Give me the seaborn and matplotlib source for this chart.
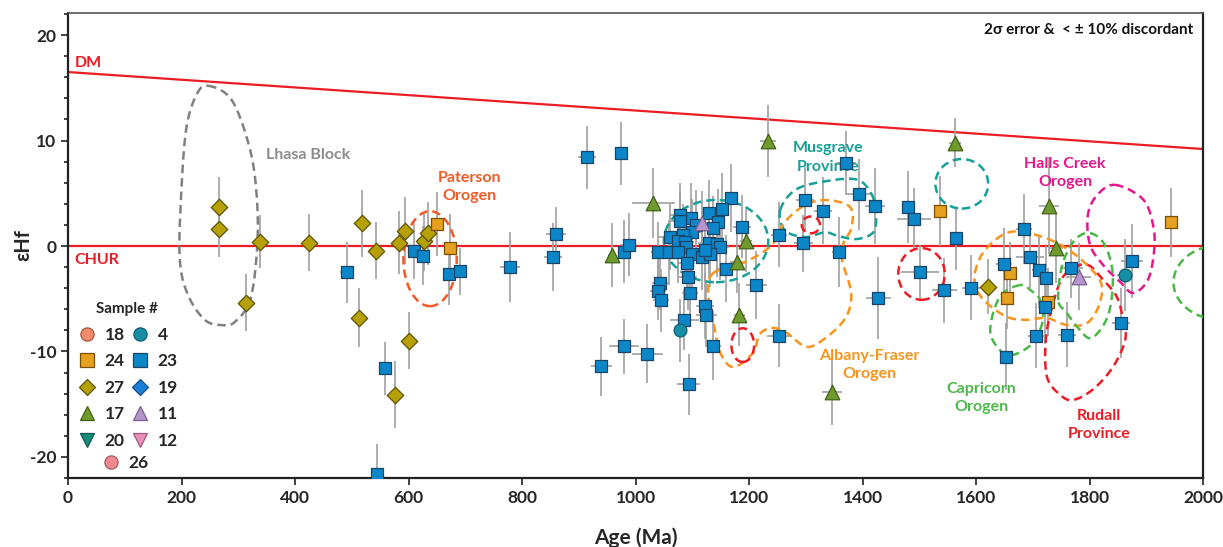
import numpy as np
import pandas as pd
import matplotlib
matplotlib.use("Agg")
import matplotlib.pyplot as plt
from matplotlib.patches import Ellipse
from matplotlib.lines import Line2D
from matplotlib.ticker import MultipleLocator
import seaborn as sns

# ---------------- data ----------------
s27_age = [266, 266, 338, 313, 424, 518, 542, 513, 583, 594, 600, 577, 627, 634, 1622]
s27_eps = [3.7, 1.6, 0.4, -5.4, 0.3, 2.15, -0.45, -6.8, 0.3, 1.45, -9.0, -14.1, 0.45, 1.2, -3.85]
s27_age_err = [4, 4, 6, 5, 6, 6, 6, 6, 6, 6, 6, 8, 6, 6, 12]
s27_eps_err = [2.8, 2.6, 2.5, 2.7, 2.7, 3.2, 2.7, 2.8, 3.0, 3.2, 2.7, 3.2, 2.8, 3.0, 2.6]

s24_age = [650, 674, 1537, 1660, 1654, 1726, 1944]
s24_eps = [2.1, -0.16, 3.35, -2.6, -4.9, -5.3, 2.25]
s24_age_err = [6, 8, 10, 10, 8, 10, 8]
s24_eps_err = [3.0, 3.2, 3.3, 3.0, 3.0, 3.2, 3.3]

s23_age = [491, 545, 558, 610, 625, 672, 691, 779, 854, 860, 914, 975, 940, 979, 989,
           980, 1021, 1094, 1040, 1059, 1043, 1040, 1045, 1086, 1093, 1096, 1123, 1125,
           1137, 1169, 1153, 1129, 1146, 1136, 1097, 1079, 1079, 1106, 1100, 1084, 1060,
           1075, 1087, 1089, 1188, 1253, 1129, 1143, 1149, 1075, 1099, 1117, 1132, 1122,
           1090, 1159, 1213, 1253, 1371, 1394, 1422, 1299, 1331, 1296, 1359, 1481, 1491,
           1565, 1501, 1544, 1428, 1591, 1685, 1695, 1650, 1711, 1724, 1722, 1768, 1705,
           1761, 1652, 1875, 1856]
s23_eps = [-2.5, -21.6, -11.6, -0.45, -0.9, -2.65, -2.4, -2.0, -1.04, 1.14, 8.4, 8.8, -11.4,
           -0.54, 0.12, -9.5, -10.2, -13.1, -0.6, -0.6, -3.5, -4.25, -5.15, -7.0, -2.9, -4.45,
           -5.7, -6.5, -9.45, 4.55, 3.5, 3.1, 2.3, 1.7, 2.65, 2.95, 2.4, 1.96, 1.3, 1.04, 0.9,
           0.47, 0.4, -0.06, 1.83, 1.07, 0.25, 0.2, -0.06, -0.54, -0.8, -1.0, -0.8, -0.4, -1.6,
           -2.15, -3.7, -8.5, 7.9, 4.9, 3.8, 4.4, 3.35, 0.28, -0.54, 3.67, 2.6, 0.73, -2.5,
           -4.2, -4.9, -3.95, 1.6, -1.0, -1.7, -2.3, -3.0, -5.75, -2.1, -8.5, -8.4, -10.5,
           -1.4, -7.3]
s23_age_err = [12, 5, 6, 10, 8, 6, 6, 18, 16, 18, 16, 6, 18, 10, 14, 26, 28, 20, 12, 10, 14,
               14, 14, 26, 16, 14, 16, 18, 14, 10, 12, 14, 12, 14, 14, 18, 16, 12, 16, 18, 20,
               14, 16, 12, 16, 14, 18, 16, 16, 12, 14, 12, 14, 14, 14, 16, 18, 22, 18, 24, 18,
               16, 16, 16, 12, 12, 30, 10, 34, 22, 22, 16, 14, 24, 14, 12, 10, 12, 20, 14, 16,
               10, 20, 16]
s23_eps_err = [2.9, 2.8, 2.5, 2.7, 2.8, 2.9, 2.2, 3.3, 3.2, 2.6, 3.0, 3.0, 2.8, 3.0, 3.0, 2.6,
               2.8, 2.9, 2.9, 3.1, 2.6, 2.8, 3.0, 2.9, 3.2, 2.9, 3.1, 3.0, 3.3, 3.2, 3.4, 3.2,
               3.1, 3.0, 3.3, 3.0, 2.8, 3.4, 3.2, 2.9, 3.2, 3.0, 3.1, 3.3, 3.0, 3.1, 3.2, 3.1,
               3.2, 3.0, 3.1, 3.2, 3.1, 2.9, 3.3, 3.2, 3.2, 3.0, 3.0, 3.4, 3.6, 3.1, 3.2, 2.7,
               3.3, 3.4, 2.9, 3.0, 2.6, 3.1, 3.9, 3.1, 3.3, 3.0, 3.4, 3.3, 3.0, 3.5, 2.8, 3.1,
               3.1, 3.2, 3.5, 3.3]

s17_age = [958, 1031, 1233, 1195, 1178, 1183, 1346, 1563, 1729, 1741]
s17_eps = [-0.85, 4.1, 9.95, 0.5, -1.5, -6.5, -13.8, 9.8, 3.8, -0.2]
s17_age_err = [6, 38, 14, 10, 12, 10, 18, 10, 18, 12]
s17_eps_err = [3.0, 3.3, 3.4, 3.0, 3.0, 3.0, 3.2, 2.3, 4.6, 3.3]

s11_age = [1117, 1781]
s11_eps = [2.2, -2.9]
s11_age_err = [12, 22]
s11_eps_err = [3.0, 3.2]

s4_age = [1079, 1862]
s4_eps = [-8.0, -2.75]
s4_age_err = [10, 14]
s4_eps_err = [3.0, 3.4]

# DM model line end points, CHUR reference
dm_age = [0, 2000]
dm_eps = [16.5, 9.2]

sample_marker = {"18": "o", "4": "o", "24": "s", "23": "s", "27": "D", "19": "D",
                 "17": "^", "11": "^", "20": "v", "12": "v", "26": "o"}
sample_face = {"18": "#f4896b", "4": "#168ea5", "24": "#e5a11f", "23": "#0b87c9",
               "27": "#b5a005", "19": "#1c7fd6", "17": "#6f9a2c", "11": "#b596cc",
               "20": "#168c7a", "12": "#e88fbc", "26": "#f08a8e"}
sample_edge = {"18": "#a0583f", "4": "#0d5e6e", "24": "#7a5000", "23": "#1b4466",
               "27": "#5e5300", "19": "#124f8a", "17": "#42601a", "11": "#7a5e90",
               "20": "#0d5a4e", "12": "#a05a80", "26": "#a05a5e"}

# region outlines (age, eps) – annotation shapes
lhasa_age = [247, 289, 321, 333, 333, 321, 294, 271, 241, 211, 197, 199, 208, 226]
lhasa_eps = [15.2, 13.8, 9.1, 4.4, -0.4, -5.1, -7.2, -7.5, -7.0, -4.6, -1.3, 4.4, 11.0, 14.3]
musg_age = [1255, 1281, 1330, 1390, 1417, 1424, 1419, 1390, 1357, 1334, 1299, 1263]
musg_eps = [3.4, 5.3, 6.1, 6.3, 4.8, 2.9, 1.3, 0.66, 0.95, 1.3, 0.85, 1.5]
rud_age = [1783, 1753, 1734, 1723, 1725, 1748, 1771, 1806, 1841, 1863, 1859, 1848, 1819, 1801]
rud_eps = [-1.8, -2.95, -5.8, -8.9, -12.4, -14.1, -14.6, -13.6, -11.5, -8.9, -7.0, -4.8, -2.9, -1.9]
halls_age = [1845, 1894, 1912, 1914, 1903, 1877, 1854, 1824, 1801, 1797, 1813]
halls_eps = [5.8, 4.45, 2.0, -0.4, -3.2, -4.45, -3.4, -1.8, 0.1, 2.9, 4.8]
af1_age = [1137, 1193, 1240, 1263, 1299, 1337, 1378, 1381, 1366, 1364, 1380, 1371, 1337,
           1302, 1267, 1242, 1219, 1207, 1172, 1149, 1137, 1128]
af1_eps = [-2.56, -1.52, 0.09, 2.27, 3.89, 4.36, 3.7, 1.8, 0.19, -1.33, -4.45, -6.73, -8.63,
           -9.57, -8.25, -7.77, -8.34, -10.14, -11.47, -10.05, -7.0, -4.45]
af2_age = [1598, 1616, 1660, 1718, 1771, 1818, 1818, 1796, 1760, 1725, 1690, 1655, 1619, 1602]
af2_eps = [-2.56, -0.38, 1.33, 0.85, -0.66, -3.22, -5.4, -7.3, -7.49, -6.82, -7.0, -6.73, -5.4, -4.17]
cap1_age = [1678, 1642, 1625, 1642, 1665, 1700, 1718, 1713, 1700]
cap1_eps = [-3.7, -4.83, -7.96, -9.86, -10.33, -9.19, -7.0, -5.12, -4.36]
cap2_age = [1745, 1752, 1774, 1801, 1827, 1841, 1833, 1804, 1780, 1759]
cap2_eps = [-5.12, -1.8, 0.57, 1.23, 0.09, -2.75, -6.54, -8.72, -7.77, -6.26]

# ---------------- build table ----------------
frames = []
for name, a, e, ae, ee in [("27", s27_age, s27_eps, s27_age_err, s27_eps_err),
                           ("24", s24_age, s24_eps, s24_age_err, s24_eps_err),
                           ("23", s23_age, s23_eps, s23_age_err, s23_eps_err),
                           ("17", s17_age, s17_eps, s17_age_err, s17_eps_err),
                           ("11", s11_age, s11_eps, s11_age_err, s11_eps_err),
                           ("4", s4_age, s4_eps, s4_age_err, s4_eps_err)]:
    frames.append(pd.DataFrame({"sample": name, "age": a, "eps": e,
                                "age_err": ae, "eps_err": ee}))
df = pd.concat(frames, ignore_index=True)

# ---------------- figure ----------------
sns.set_theme(style="ticks")
plt.rcParams["font.family"] = ["Lato", "DejaVu Sans"]
plt.rcParams["font.weight"] = "bold"
plt.rcParams["axes.unicode_minus"] = False

fig = plt.figure(figsize=(12.23, 5.47), dpi=100)
ax = fig.add_axes([68 / 1223, 1 - 478 / 547, 1135 / 1223, 465 / 547])

RED = "#ed1c24"
ax.plot(dm_age, dm_eps, color=RED, lw=1.6, zorder=2)
ax.axhline(0, color=RED, lw=1.6, zorder=2)


def closed_curve(xs, ys, n=24):
    P = np.column_stack([xs, ys]).astype(float)
    N = len(P)
    t = np.linspace(0, 1, n, endpoint=False)[:, None]
    out = []
    for i in range(N):
        p0, p1, p2, p3 = P[i - 1], P[i], P[(i + 1) % N], P[(i + 2) % N]
        out.append(0.5 * (2 * p1 + (-p0 + p2) * t + (2 * p0 - 5 * p1 + 4 * p2 - p3) * t ** 2
                          + (-p0 + 3 * p1 - 3 * p2 + p3) * t ** 3))
    out = np.vstack(out + [out[0][:1]])
    return out[:, 0], out[:, 1]


DASH = (0, (3.4, 2.0))
outline_kw = dict(lw=1.8, linestyle=DASH, zorder=2.6)
for xs, ys, col in [(lhasa_age, lhasa_eps, "#808080"),
                    (musg_age, musg_eps, "#16a097"),
                    (rud_age, rud_eps, RED),
                    (halls_age, halls_eps, "#e6168c"),
                    (af1_age, af1_eps, "#f7941d"),
                    (af2_age, af2_eps, "#f7941d"),
                    (cap1_age, cap1_eps, "#4cb848"),
                    (cap2_age, cap2_eps, "#4cb848")]:
    cx, cy = closed_curve(xs, ys)
    ax.plot(cx, cy, color=col, **outline_kw)

for (cx, cy, w, h, col) in [(638, -1.2, 94, 9.0, "#f05a28"),
                             (1142, 0.47, 184, 7.8, "#16a097"),
                             (1575, 5.9, 93, 4.7, "#16a097"),
                             (1309, 2.0, 32, 1.6, RED),
                             (1189, -9.4, 40, 3.2, RED),
                             (1504, -2.65, 82, 4.9, RED),
                             (2032, -3.45, 168, 7.1, "#4cb848")]:
    ax.add_patch(Ellipse((cx, cy), w, h, fill=False, edgecolor=col, lw=1.8,
                         linestyle=DASH, zorder=2.6))

# error bars
ax.errorbar(df["age"], df["eps"], xerr=df["age_err"], yerr=df["eps_err"], fmt="none",
            ecolor="#a0a0a0", elinewidth=1.2, capsize=0, zorder=2.2)

sizes = {"s": 85, "D": 70, "^": 110, "o": 85, "v": 110}
for name, sub in df.groupby("sample", sort=False):
    m = sample_marker[name]
    sns.scatterplot(data=sub, x="age", y="eps", marker=m, s=sizes[m],
                    color=sample_face[name], edgecolor=sample_edge[name], linewidth=0.9,
                    ax=ax, legend=False, zorder=4)

ax.set_xlim(0, 2000)
ax.set_ylim(-22, 22.1)
ax.xaxis.set_major_locator(MultipleLocator(200))
ax.yaxis.set_major_locator(MultipleLocator(10))
ax.yaxis.set_minor_locator(MultipleLocator(2))
ax.tick_params(axis="both", which="major", direction="out", length=5, width=1.2,
               labelsize=12.5, color="#222222")
ax.tick_params(axis="y", which="minor", direction="out", length=3, width=1.2, color="#222222")
for lab in ax.get_xticklabels() + ax.get_yticklabels():
    lab.set_fontweight("bold")
ax.set_xlabel("Age (Ma)", fontsize=15, fontweight="bold")
ax.xaxis.set_label_coords(0.5, -0.106)
ax.set_ylabel("εHf", fontsize=14.5, fontweight="bold")
ax.yaxis.set_label_coords(-0.031, 0.5)
for side in ["left", "bottom", "right"]:
    ax.spines[side].set_color("#222222")
    ax.spines[side].set_linewidth(1.6)
ax.spines["top"].set_color("#555555")
ax.spines["top"].set_linewidth(1.2)

# texts
ax.text(12, 17.4, "DM", color=RED, fontsize=11.5, fontweight="bold", va="center")
ax.text(12, -1.3, "CHUR", color=RED, fontsize=11.5, fontweight="bold", va="center")
lab_kw = dict(fontsize=11.5, fontweight="bold", ha="center", va="center", linespacing=1.4)
ax.text(349, 8.6, "Lhasa Block", color="#8c8c8c", fontsize=11.5, fontweight="bold",
        va="center", ha="left")
ax.text(707, 5.6, "Paterson\nOrogen", color="#f05a28", **lab_kw)
ax.text(1339, 8.4, "Musgrave\nProvince", color="#16a097", **lab_kw)
ax.text(1757, 6.9, "Halls Creek\nOrogen", color="#e6168c", **lab_kw)
ax.text(1412, -11.3, "Albany-Fraser\nOrogen", color="#f7941d", **lab_kw)
ax.text(1610, -14.4, "Capricorn\nOrogen", color="#4cb848", **lab_kw)
ax.text(1817, -17.0, "Rudall\nProvince", color=RED, **lab_kw)
ax.text(1982, 20.5, "2σ error &  < ± 10% discordant", color="#111111", fontsize=11,
        fontweight="bold", ha="right", va="center")


def handle(name):
    m = sample_marker[name]
    ms = 10.5 if m in "^v" else (8.5 if m == "D" else 9.5)
    return Line2D([], [], ls="", marker=m, markersize=ms, markerfacecolor=sample_face[name],
                  markeredgecolor=sample_edge[name], markeredgewidth=0.9)


order = ["18", "24", "27", "17", "20", "4", "23", "19", "11", "12"]
leg1 = ax.legend([handle(n) for n in order], order, ncol=2, frameon=False,
                 title="Sample #", loc="upper left", bbox_to_anchor=(-0.006, 0.412),
                 prop={"weight": "bold", "size": 12.5}, labelspacing=0.61,
                 columnspacing=0.3, handletextpad=0.4, handlelength=1.2,
                 title_fontproperties={"weight": "bold", "size": 11})
ax.add_artist(leg1)
leg2 = ax.legend([handle("26")], ["26"], frameon=False, loc="center left",
                 bbox_to_anchor=(0.015, 0.032), prop={"weight": "bold", "size": 12.5},
                 handletextpad=0.4, handlelength=1.2)

fig.savefig("out.png", dpi=100)
